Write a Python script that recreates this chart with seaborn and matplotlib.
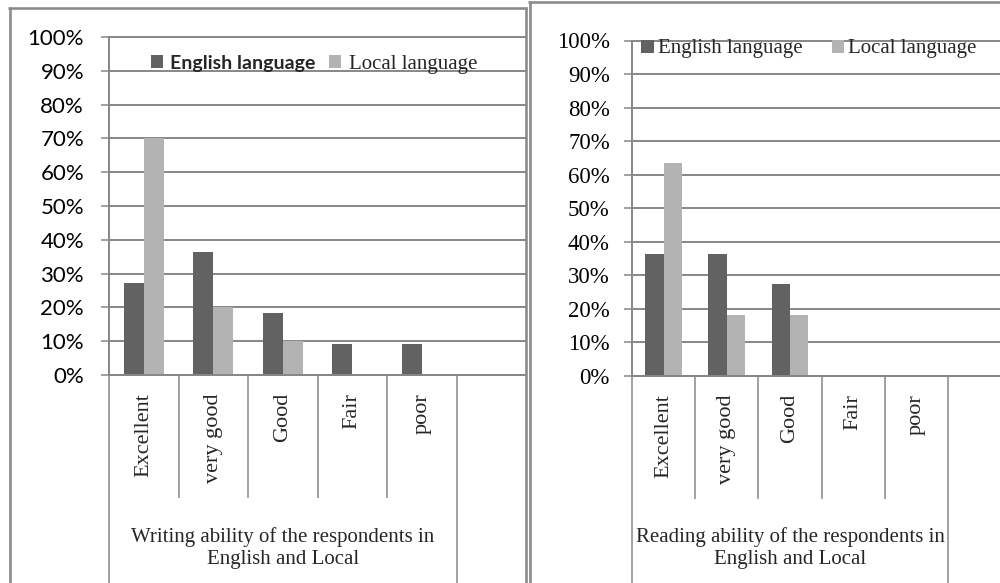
import matplotlib
matplotlib.use("Agg")
import matplotlib.pyplot as plt
from matplotlib.lines import Line2D
from matplotlib.patches import Patch
from matplotlib.ticker import FuncFormatter
import seaborn as sns
import pandas as pd

# ---- data -------------------------------------------------------------
categories = ["Excellent", "very good", "Good", "Fair", "poor"]
series_names = ["English language", "Local language"]
writing_english = [27.3, 36.4, 18.2, 9.1, 9.1]
writing_local = [70.0, 20.0, 10.0, 0.0, 0.0]
reading_english = [36.4, 36.4, 27.3, 0.0, 0.0]
reading_local = [63.6, 18.2, 18.2, 0.0, 0.0]
y_ticks = list(range(0, 101, 10))
writing_title = "Writing ability of the respondents in\nEnglish and Local"
reading_title = "Reading ability of the respondents in\nEnglish and Local"

# ---- style ------------------------------------------------------------
DARK = "#626262"
LIGHT = "#b3b3b3"
GRID = "#878787"
FRAME = "#8a8a8a"
SERIF = "Liberation Serif"
SANS = "Lato"

W, H = 1000, 583
sns.set_style("white")
plt.rcParams["font.family"] = ["DejaVu Sans"]
fig = plt.figure(figsize=(W / 100, H / 100), dpi=100)


def px_rect(x0, y_top, x1, y_bottom):
    return [x0 / W, 1 - y_bottom / H, (x1 - x0) / W, (y_bottom - y_top) / H]


def long_table(eng, loc):
    return pd.DataFrame({
        "category": categories * 2,
        "series": [series_names[0]] * len(categories) + [series_names[1]] * len(categories),
        "value": eng + loc,
    })


def draw_panel(ax, eng, loc, slots, ytick_family, ytick_size, ypad, title,
               axis_px, bottom_px):
    df = long_table(eng, loc)
    sns.barplot(data=df, x="category", y="value", hue="series",
                order=categories, hue_order=series_names,
                palette=[DARK, LIGHT], saturation=1, width=0.58,
                linewidth=0, errorbar=None, legend=False, ax=ax)
    ax.set_xlabel("")
    ax.set_ylabel("")
    ax.set_xlim(-0.5, -0.5 + slots)
    ax.set_ylim(0, 100)

    # value axis
    ax.set_yticks(y_ticks)
    ax.yaxis.set_major_formatter(FuncFormatter(lambda v, p: f"{v:.0f}%"))
    ax.grid(axis="y", color=GRID, linewidth=1.4)
    ax.grid(axis="x", visible=False)
    ax.set_axisbelow(True)
    for gl in ax.get_ygridlines():
        gl.set_clip_on(False)
    for s in ("top", "right"):
        ax.spines[s].set_visible(False)
    for s in ("left", "bottom"):
        ax.spines[s].set_color(GRID)
        ax.spines[s].set_linewidth(1.4)
    ax.tick_params(axis="y", left=True, length=6, width=1.1, color=GRID,
                   pad=ypad, labelsize=ytick_size, labelcolor="black")
    for t in ax.get_yticklabels():
        t.set_family(ytick_family)

    # category axis
    ax.set_xticks(range(len(categories)))
    ax.set_xticklabels(categories, rotation=90, family=SERIF, fontsize=16)
    ax.tick_params(axis="x", which="major", bottom=True, length=0, pad=13)
    ax.set_xticks([i + 0.5 for i in range(len(categories) - 1)], minor=True)
    ax.tick_params(axis="x", which="minor", bottom=True, length=88.5,
                   width=1.1, color=GRID, direction="out")

    # group boundary lines running down to the bottom of the chart
    axis_height = ax.get_position().height * H
    depth = (bottom_px - axis_px) / axis_height
    tr = ax.get_xaxis_transform()
    for xb in (-0.5, len(categories) - 0.5):
        ax.plot([xb, xb], [0, -depth - 0.1], transform=tr, color=GRID,
                linewidth=1.1, clip_on=False)

    # group label
    ax.text((len(categories) - 1) / 2, -(548 - axis_px) / axis_height, title,
            transform=tr, ha="center", va="center", family=SERIF,
            fontsize=15, linespacing=1.2)


ax_w = fig.add_axes(px_rect(109, 37, 526, 375))
draw_panel(ax_w, writing_english, writing_local, 6.0, SANS, 16, 12,
           writing_title, 375, 583)

ax_r = fig.add_axes(px_rect(632, 40.5, 1000, 376))
draw_panel(ax_r, reading_english, reading_local, 368 / 63.2, SERIF, 16.5, 10,
           reading_title, 376, 583)

# legends
handles = [Patch(facecolor=DARK, edgecolor="none"),
           Patch(facecolor=LIGHT, edgecolor="none")]
leg_w = fig.legend(handles, series_names, loc="center",
                   bbox_to_anchor=(314 / W, 1 - 64 / H), ncol=2, frameon=False,
                   handlelength=0.6, handleheight=0.6, handletextpad=0.4,
                   columnspacing=0.7, fontsize=14, borderpad=0)
leg_w.get_texts()[0].set_family(SANS)
leg_w.get_texts()[0].set_weight("bold")
leg_w.get_texts()[1].set_family(SERIF)
leg_w.get_texts()[1].set_fontsize(15)

leg_r = fig.legend(handles, series_names, loc="center",
                   bbox_to_anchor=(809 / W, 1 - 49 / H), ncol=2, frameon=False,
                   handlelength=0.6, handleheight=0.6, handletextpad=0.2,
                   columnspacing=1.4, fontsize=15, borderpad=0)
for t in leg_r.get_texts():
    t.set_family(SERIF)

# chart frames
def frame_line(xs, ys, lw=2.6):
    fig.add_artist(Line2D([x / W for x in xs], [1 - y / H for y in ys],
                          transform=fig.transFigure, color=FRAME,
                          linewidth=lw * 0.72, solid_capstyle="butt"))

frame_line([9.5, 9.5], [7, 583])
frame_line([8, 527], [8, 8])
frame_line([526, 526], [7, 583])
frame_line([529.5, 529.5], [1, 583])
frame_line([528, 1000], [1.5, 1.5])

fig.savefig("out.png", dpi=100)
